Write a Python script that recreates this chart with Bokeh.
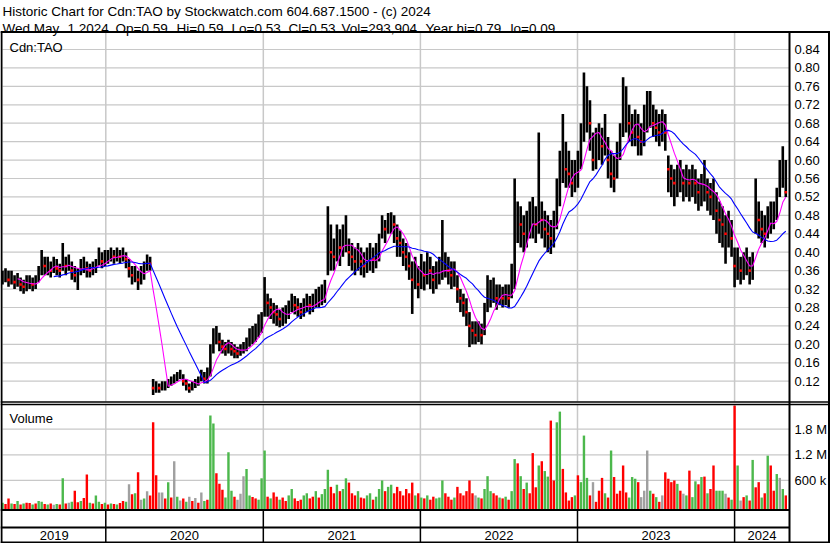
import numpy as np
import pandas as pd
from bokeh.plotting import figure
from bokeh.models import Range1d, Label, ColumnDataSource
from bokeh.core.properties import value
from bokeh.embed import file_html
from bokeh.resources import INLINE

# ---------------- data (weekly summary) ----------------
start = pd.Timestamp("2019-05-06")
n_weeks = 261
week_dates = pd.date_range(start, periods=n_weeks, freq="7D")

close = [0.345,0.35,0.34,0.345,0.335,0.34,0.33,0.325,0.33,0.335,
         0.33,0.335,0.35,0.38,0.37,0.37,0.36,0.375,0.365,0.36,
         0.38,0.37,0.38,0.36,0.35,0.35,0.37,0.375,0.365,0.36,
         0.365,0.37,0.39,0.38,0.385,0.39,0.395,0.39,0.395,0.39,
         0.395,0.385,0.365,0.35,0.355,0.34,0.35,0.36,0.38,0.375,
         0.105,0.11,0.105,0.11,0.11,0.115,0.12,0.125,0.13,0.135,
         0.12,0.115,0.105,0.11,0.115,0.12,0.135,0.125,0.13,0.17,
         0.21,0.225,0.205,0.195,0.19,0.195,0.19,0.185,0.18,0.185,
         0.19,0.2,0.215,0.22,0.225,0.24,0.25,0.30,0.29,0.28,
         0.27,0.265,0.255,0.26,0.265,0.275,0.29,0.285,0.28,0.27,
         0.28,0.29,0.285,0.29,0.30,0.30,0.305,0.31,0.42,0.40,
         0.39,0.42,0.41,0.43,0.44,0.40,0.39,0.38,0.39,0.38,
         0.37,0.38,0.39,0.385,0.39,0.41,0.46,0.45,0.46,0.47,
         0.46,0.43,0.42,0.40,0.39,0.37,0.34,0.36,0.33,0.36,
         0.35,0.37,0.36,0.34,0.35,0.36,0.37,0.38,0.36,0.35,
         0.36,0.32,0.30,0.29,0.27,0.24,0.23,0.22,0.23,0.22,
         0.25,0.30,0.31,0.32,0.30,0.31,0.30,0.31,0.30,0.32,
         0.36,0.47,0.46,0.44,0.45,0.47,0.48,0.46,0.49,0.47,
         0.45,0.44,0.43,0.45,0.50,0.56,0.60,0.58,0.57,0.55,
         0.56,0.58,0.63,0.70,0.72,0.68,0.60,0.62,0.64,0.63,
         0.66,0.60,0.57,0.56,0.60,0.64,0.70,0.71,0.68,0.66,
         0.67,0.65,0.64,0.67,0.70,0.71,0.68,0.67,0.66,0.68,
         0.66,0.58,0.56,0.55,0.56,0.57,0.55,0.56,0.55,0.56,
         0.55,0.53,0.54,0.55,0.53,0.52,0.52,0.49,0.47,0.46,
         0.44,0.45,0.43,0.37,0.38,0.36,0.37,0.38,0.36,0.37,
         0.49,0.47,0.45,0.44,0.46,0.47,0.48,0.50,0.56,0.58,
         0.53]

high = [0.36,0.365,0.36,0.36,0.35,0.355,0.345,0.34,0.35,0.35,
        0.345,0.35,0.37,0.405,0.39,0.39,0.38,0.39,0.385,0.375,
        0.42,0.39,0.395,0.38,0.37,0.365,0.385,0.39,0.38,0.375,
        0.38,0.385,0.41,0.40,0.405,0.405,0.41,0.405,0.41,0.405,
        0.41,0.40,0.385,0.37,0.37,0.36,0.37,0.38,0.395,0.39,
        0.125,0.12,0.115,0.12,0.12,0.125,0.13,0.135,0.14,0.145,
        0.135,0.125,0.115,0.12,0.125,0.13,0.145,0.14,0.15,0.20,
        0.235,0.24,0.225,0.21,0.205,0.21,0.205,0.2,0.195,0.2,
        0.205,0.215,0.235,0.24,0.245,0.265,0.27,0.346,0.31,0.30,
        0.29,0.285,0.275,0.28,0.285,0.295,0.31,0.305,0.30,0.29,
        0.30,0.31,0.305,0.31,0.32,0.325,0.33,0.34,0.50,0.46,
        0.43,0.46,0.45,0.46,0.48,0.43,0.42,0.41,0.42,0.41,
        0.40,0.41,0.42,0.41,0.42,0.44,0.48,0.47,0.485,0.487,
        0.48,0.46,0.447,0.43,0.42,0.40,0.38,0.39,0.37,0.396,
        0.38,0.40,0.39,0.37,0.38,0.39,0.47,0.40,0.39,0.38,
        0.38,0.35,0.32,0.31,0.30,0.27,0.25,0.25,0.25,0.245,
        0.29,0.35,0.34,0.345,0.33,0.33,0.325,0.33,0.33,0.375,
        0.56,0.51,0.50,0.48,0.49,0.51,0.52,0.50,0.66,0.51,
        0.49,0.48,0.47,0.49,0.56,0.62,0.70,0.64,0.62,0.60,
        0.60,0.62,0.68,0.79,0.76,0.73,0.66,0.67,0.68,0.67,
        0.70,0.65,0.62,0.61,0.64,0.68,0.78,0.76,0.72,0.70,
        0.71,0.70,0.68,0.72,0.75,0.75,0.72,0.71,0.70,0.71,
        0.70,0.61,0.59,0.58,0.59,0.60,0.58,0.59,0.58,0.59,
        0.58,0.56,0.57,0.60,0.56,0.55,0.56,0.53,0.51,0.50,
        0.48,0.49,0.47,0.41,0.41,0.39,0.40,0.41,0.39,0.40,
        0.56,0.51,0.49,0.48,0.50,0.51,0.51,0.54,0.60,0.63,
        0.60]

low = [0.33,0.335,0.325,0.33,0.32,0.325,0.315,0.31,0.315,0.32,
       0.315,0.32,0.335,0.35,0.35,0.35,0.345,0.355,0.35,0.345,
       0.36,0.35,0.36,0.34,0.335,0.318,0.35,0.355,0.345,0.345,
       0.35,0.355,0.37,0.365,0.37,0.375,0.38,0.375,0.38,0.375,
       0.38,0.365,0.345,0.33,0.335,0.318,0.33,0.34,0.36,0.36,
       0.09,0.095,0.095,0.1,0.1,0.105,0.11,0.115,0.12,0.125,
       0.11,0.1,0.095,0.1,0.105,0.11,0.12,0.115,0.115,0.13,
       0.18,0.2,0.185,0.18,0.175,0.18,0.175,0.17,0.17,0.175,
       0.18,0.185,0.195,0.2,0.205,0.215,0.225,0.26,0.26,0.255,
       0.245,0.24,0.237,0.24,0.245,0.255,0.27,0.265,0.26,0.255,
       0.26,0.27,0.265,0.27,0.28,0.28,0.285,0.29,0.35,0.36,
       0.36,0.38,0.37,0.39,0.40,0.37,0.36,0.35,0.36,0.35,
       0.345,0.355,0.36,0.355,0.365,0.38,0.43,0.42,0.44,0.44,
       0.42,0.39,0.39,0.37,0.36,0.34,0.266,0.32,0.30,0.32,
       0.317,0.33,0.32,0.31,0.32,0.33,0.34,0.345,0.33,0.32,
       0.325,0.29,0.27,0.26,0.24,0.194,0.20,0.20,0.205,0.20,
       0.22,0.27,0.28,0.29,0.275,0.285,0.28,0.285,0.28,0.30,
       0.32,0.42,0.41,0.40,0.41,0.43,0.43,0.42,0.44,0.43,
       0.41,0.40,0.396,0.41,0.45,0.50,0.55,0.54,0.54,0.52,
       0.53,0.54,0.58,0.64,0.66,0.62,0.577,0.58,0.60,0.59,
       0.61,0.56,0.54,0.53,0.56,0.60,0.65,0.66,0.64,0.63,
       0.63,0.61,0.61,0.63,0.66,0.67,0.65,0.64,0.63,0.64,
       0.62,0.53,0.52,0.50,0.52,0.53,0.51,0.52,0.51,0.52,
       0.505,0.49,0.50,0.51,0.49,0.48,0.47,0.44,0.42,0.41,
       0.375,0.41,0.39,0.324,0.34,0.33,0.34,0.35,0.33,0.34,
       0.44,0.43,0.42,0.41,0.43,0.44,0.45,0.47,0.52,0.54,
       0.52]

volume_m = [0.08,0.05,0.18,0.06,0.05,0.12,0.04,0.06,0.08,0.07,
            0.04,0.06,0.12,0.10,0.05,0.04,0.06,0.03,0.05,0.04,
            0.65,0.06,0.08,0.10,0.36,0.09,0.12,0.19,0.74,0.08,
            0.06,0.25,0.10,0.05,0.08,0.04,0.06,0.05,0.04,0.07,
            0.12,0.10,0.51,0.28,0.30,0.79,0.15,0.18,0.35,0.25,
            1.96,0.72,0.32,0.32,0.18,0.56,0.20,1.05,0.22,0.13,
            0.18,0.10,0.22,0.12,0.19,0.08,0.32,0.12,0.15,2.12,
            1.93,0.77,0.52,0.38,0.20,1.26,0.36,0.22,0.15,0.29,
            0.70,0.87,0.25,0.21,0.18,0.15,0.65,1.30,0.22,0.18,
            0.32,0.22,0.15,0.20,0.12,0.25,0.40,0.18,0.12,0.15,
            0.25,0.30,0.18,0.22,0.35,0.20,0.28,0.40,0.85,0.45,
            0.30,0.50,0.35,0.40,0.65,0.55,0.30,0.25,0.35,0.20,
            0.18,0.25,0.30,0.15,0.22,0.40,0.60,0.35,0.45,0.50,
            0.30,0.45,0.35,0.25,0.40,0.30,0.55,0.25,0.30,0.20,
            0.18,0.25,0.15,0.22,0.18,0.20,0.60,0.30,0.22,0.15,
            0.20,0.45,0.30,0.25,0.35,0.60,0.30,0.25,0.20,0.18,
            0.40,0.70,0.35,0.30,0.25,0.20,0.18,0.22,0.15,0.35,
            1.10,1.00,0.70,0.40,0.55,0.30,1.24,0.44,0.95,1.05,
            0.82,0.69,2.00,0.60,1.96,2.21,0.87,0.32,0.13,0.21,
            0.25,0.72,0.56,1.65,0.66,0.25,0.56,0.10,0.36,0.66,
            0.30,0.20,1.30,0.68,0.29,0.36,0.95,0.32,0.20,0.68,
            0.64,0.56,0.21,0.36,1.30,0.36,0.29,0.21,0.10,0.25,
            0.79,0.64,0.56,0.60,0.52,0.36,0.29,0.25,0.83,0.21,
            0.58,0.51,0.68,0.69,0.30,0.40,0.95,0.36,0.36,0.36,
            0.29,0.20,0.15,2.35,0.95,0.13,0.21,0.25,0.13,1.08,
            0.44,0.56,0.20,0.30,1.18,0.95,0.36,0.75,0.66,0.40,
            0.25]

# g = up (green), r = down (red), n = unchanged (grey)
volume_dir = list(
    "grrgrgrgrr" "grggrgrngr" "grngrrgrrg" "rggrgrgrgr" "rgnrgrngnr"
    "rrnnrgrngn" "rgnrnrngrg" "grrrgggrnn" "nggrrgggrg" "rrgrrggrrr"
    "ggrrgrgggr" "rgrggrrrgr" "rggrgggrgg" "rrrrrrrgrg" "rgrrgggrrr"
    "grrrrrrngr" "gggrrgrgrg" "grgrgrrrgr" "ggrrggrrrr" "grgggrnrrr"
    "grgrrrrrgg" "grnnngrgrn" "rrrrgrngrg" "grgrgrrggg" "nrgrgnrgrg"
    "rrgrgrrgngr")

price_ticks = [0.12, 0.16, 0.20, 0.24, 0.28, 0.32, 0.36, 0.40, 0.44, 0.48,
               0.52, 0.56, 0.60, 0.64, 0.68, 0.72, 0.76, 0.80, 0.84]
price_tick_labels = ["%.2f" % t for t in price_ticks]
volume_ticks_m = [0.6, 1.2, 1.8]
volume_tick_labels = ["600 k", "1.2 M", "1.8 M"]
years = [2019, 2020, 2021, 2022, 2023, 2024]
year_labels = [str(y) for y in years]

title_line1 = "Historic Chart for Cdn:TAO by Stockwatch.com 604.687.1500 - (c) 2024"
title_line2 = ["Wed May", "1 2024", "Op=0.59", "Hi=0.59", "Lo=0.53", "Cl=0.53",
               "Vol=293,904", "Year hi=0.79", "lo=0.09"]
title_line2_rx = [2, 67, 115, 176, 231, 288, 341, 425, 510]

# ---------------- layout helpers (reference-pixel -> data) ----------------
def fx(rx):
    return (rx - 2.0) / 3.0127

def fy(ry):
    return 0.84 - (ry - 49.0) / 460.7

def fv(ry):
    return (505.6 - ry) / 25.65 * 0.6

x = np.array([(d - start).days / 7.0 for d in week_dates])
year_bounds = [(pd.Timestamp(f"{y}-01-01") - start).days / 7.0 for y in years]

FONT = value("Liberation Sans")
GRID = "#c8c8c8"

p = figure(width=830, height=543, output_backend="svg", toolbar_location=None,
           x_range=Range1d(fx(0), fx(830)), y_range=Range1d(fy(543), fy(0)),
           x_axis_type=None, y_axis_type=None, min_border=0, title=None,
           outline_line_color=None, background_fill_color="white",
           border_fill_color="white")
p.extra_y_ranges = {"vol": Range1d(fv(543), fv(0))}

# grid lines
p.segment(x0=[fx(2)] * len(price_ticks), x1=[fx(789)] * len(price_ticks),
          y0=price_ticks, y1=price_ticks, line_color=GRID, line_width=1.2)
p.segment(x0=[fx(2)] * 3, x1=[fx(789)] * 3, y0=volume_ticks_m, y1=volume_ticks_m,
          line_color=GRID, line_width=1.2, y_range_name="vol")
yb = year_bounds[1:]
p.segment(x0=yb, x1=yb, y0=[fy(32)] * len(yb), y1=[fy(401)] * len(yb),
          line_color=GRID, line_width=1.5)
p.segment(x0=yb, x1=yb, y0=[fy(404)] * len(yb), y1=[fy(509)] * len(yb),
          line_color=GRID, line_width=1.5)

# price bars
close_a = np.array(close)
p.segment(x0=x, x1=x, y0=low, y1=high, line_color="black", line_width=2.6)
down = np.r_[False, close_a[1:] < close_a[:-1]]
p.scatter(x[down], close_a[down], marker="square", size=2.6,
          fill_color="red", line_color=None)

# moving averages
ma_short = pd.Series(close_a).rolling(6).mean().to_numpy()
ma_long = pd.Series(close_a).rolling(18).mean().to_numpy()
p.line(x, ma_short, line_color="#ff00ff", line_width=1.1)
p.line(x, ma_long, line_color="#0000ff", line_width=1.1)

# volume bars
cmap = {"g": "#4cb84c", "r": "#ff0000", "n": "#a0a0a0"}
vsrc = ColumnDataSource(dict(x=x, top=volume_m,
                             color=[cmap[c] for c in volume_dir]))
p.vbar(x="x", top="top", bottom=fv(509), width=0.8, source=vsrc,
       fill_color="color", line_color=None, y_range_name="vol")

# frame lines
K = "black"
p.segment(x0=[fx(0)], x1=[fx(830)], y0=[fy(31.5)], y1=[fy(31.5)], line_color=K, line_width=2)
p.segment(x0=[fx(0)], x1=[fx(830)], y0=[fy(401.5)], y1=[fy(401.5)], line_color=K, line_width=1.5)
p.segment(x0=[fx(0)], x1=[fx(830)], y0=[fy(404)], y1=[fy(404)], line_color=K, line_width=1.5)
p.segment(x0=[fx(0)], x1=[fx(789)], y0=[fy(509.5)], y1=[fy(509.5)], line_color=K, line_width=2)
p.segment(x0=[fx(0)], x1=[fx(789)], y0=[fy(527)], y1=[fy(527)], line_color=K, line_width=2)
p.segment(x0=[fx(0)], x1=[fx(830)], y0=[fy(542)], y1=[fy(542)], line_color=K, line_width=2)
p.segment(x0=[fx(1)], x1=[fx(1)], y0=[fy(31)], y1=[fy(543)], line_color=K, line_width=2)
p.segment(x0=[fx(789)], x1=[fx(789)], y0=[fy(31)], y1=[fy(543)], line_color=K, line_width=2)
p.segment(x0=[fx(828.5)], x1=[fx(828.5)], y0=[fy(31)], y1=[fy(543)], line_color=K, line_width=2)
p.segment(x0=yb, x1=yb, y0=[fy(509)] * len(yb), y1=[fy(542)] * len(yb),
          line_color=K, line_width=1.5)

# tick labels
p.text(x=[fx(794)] * len(price_ticks), y=price_ticks, text=price_tick_labels,
       text_font=FONT, text_font_size="13px", text_baseline="middle",
       text_align="left", text_color="black")
p.text(x=[fx(794)] * 3, y=volume_ticks_m, text=volume_tick_labels,
       text_font=FONT, text_font_size="13px", text_baseline="middle",
       text_align="left", text_color="black", y_range_name="vol")
left_edge, right_edge = fx(2), fx(789)
edges = [left_edge] + year_bounds[1:] + [right_edge]
year_mid = [(edges[i] + edges[i + 1]) / 2 for i in range(len(years))]
p.text(x=year_mid, y=[fy(535)] * len(years), text=year_labels,
       text_font=FONT, text_font_size="13px", text_baseline="middle",
       text_align="center", text_color="black")

# titles and panel labels
def add_label(rx, ry, txt, size="13px"):
    p.add_layout(Label(x=fx(rx), y=fy(ry), text=txt, text_font="Liberation Sans",
                       text_font_size=size, text_baseline="alphabetic",
                       text_align="left", text_color="black"))

add_label(2, 11, title_line1, "13.5px")
for rx, t in zip(title_line2_rx, title_line2):
    add_label(rx, 27.5, t, "13.5px")
add_label(9, 47, "Cdn:TAO")
add_label(9, 418, "Volume")

open("out.html", "w").write(file_html(p, INLINE))
